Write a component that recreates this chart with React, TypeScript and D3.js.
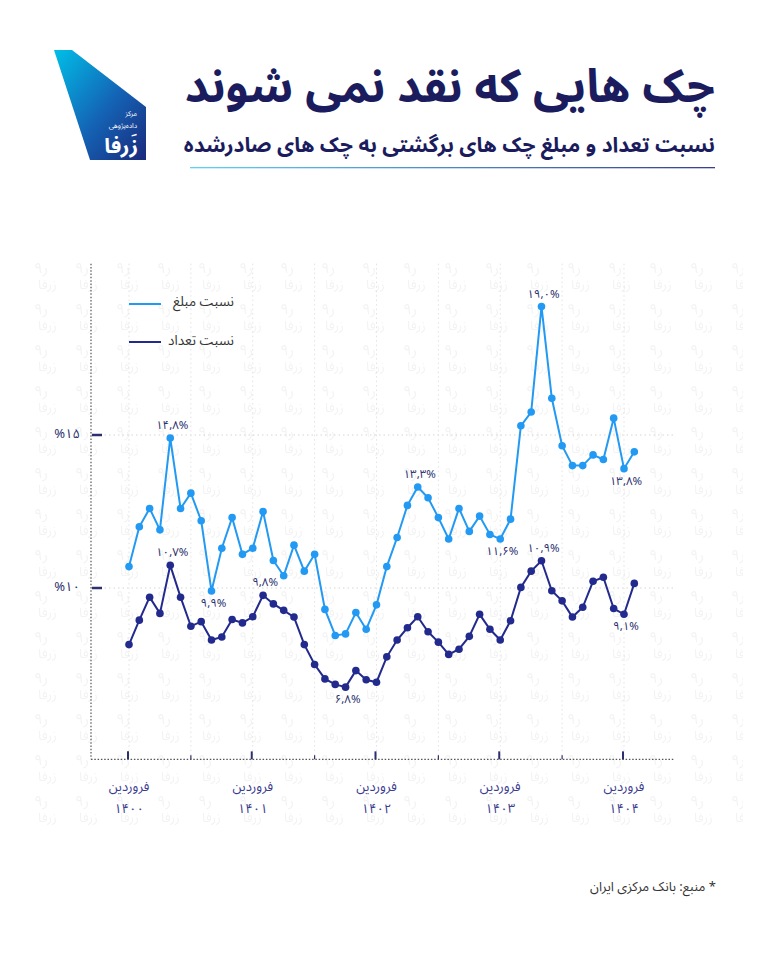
import React from "react";
import * as d3 from "d3";

// ---- data ----
const amountRatio = [10.7, 12.0, 12.6, 11.9, 14.9, 12.6, 13.1, 12.2, 9.9, 11.3, 12.3, 11.1, 11.3, 12.5, 10.9, 10.4, 11.4, 10.55, 11.1, 9.3, 8.45, 8.5, 9.2, 8.65, 9.45, 10.7, 11.65, 12.7, 13.3, 12.95, 12.3, 11.6, 12.6, 11.85, 12.35, 11.75, 11.6, 12.25, 15.3, 15.75, 19.2, 16.2, 14.65, 14.0, 14.0, 14.35, 14.2, 15.55, 13.9, 14.45];
const countRatio = [8.15, 8.95, 9.7, 9.17, 10.74, 9.7, 8.75, 8.9, 8.3, 8.4, 8.97, 8.86, 9.06, 9.76, 9.48, 9.27, 9.05, 8.15, 7.5, 7.03, 6.85, 6.76, 7.3, 7.0, 6.92, 7.75, 8.3, 8.7, 9.06, 8.57, 8.23, 7.83, 8.0, 8.42, 9.14, 8.65, 8.3, 8.93, 10.02, 10.55, 10.89, 9.91, 9.58, 9.05, 9.37, 10.22, 10.35, 9.33, 9.14, 10.15];
const yearTickIdx = [0, 12, 24, 36, 48];
const yearLabels = ["۱۴۰۰", "۱۴۰۱", "۱۴۰۲", "۱۴۰۳", "۱۴۰۴"];
const monthLabel = "فروردین";
const minorTickIdx = [6, 18, 30, 42];
const yTicks = [10, 15];
const yTickLabels = ["%۱۰", "%۱۵"];
const amountNotes = [
  { i: 4, text: "۱۴,۸%", above: true },
  { i: 8, text: "۹,۹%", above: false },
  { i: 28, text: "۱۳,۳%", above: true },
  { i: 36, text: "۱۱,۶%", above: false },
  { i: 40, text: "۱۹,۰%", above: true },
  { i: 48, text: "۱۳,۸%", above: false },
];
const countNotes = [
  { i: 4, text: "۱۰,۷%", above: true },
  { i: 13, text: "۹,۸%", above: true },
  { i: 21, text: "۶,۸%", above: false },
  { i: 40, text: "۱۰,۹%", above: true },
  { i: 48, text: "۹,۱%", above: false },
];
const seriesNames = ["نسبت مبلغ", "نسبت تعداد"];
const title = "چک هایی که نقد نمی شوند";
const subtitle = "نسبت تعداد و مبلغ چک های برگشتی به چک های صادرشده";
const source = "منبع: بانک مرکزی ایران *";
const logoLines = ["مرکز", "داده‌پژوهی", "زَرفا"];

const FONT = "'Noto Sans Arabic', 'DejaVu Sans', sans-serif";
const LIGHT = "#2299f3";
const DARK = "#222a8d";
const NAVY = "#1b1c5e";

export default function App() {
  const x = d3.scaleLinear().domain([0, 49]).range([129, 634.3]);
  const y = d3.scaleLinear().domain([10, 15]).range([588, 435]);
  const yTop = y(20.6);
  const yBot = y(4.4);
  const xLeft = 91;
  const xRight = 675;

  const line = d3
    .line<number>()
    .x((_, i) => x(i))
    .y((d) => y(d));

  const renderSeries = (data: number[], color: string) => (
    <g>
      <path d={line(data) || ""} fill="none" stroke={color} strokeWidth={2} />
      {data.map((d, i) => (
        <circle key={i} cx={x(i)} cy={y(d)} r={3.8} fill={color} />
      ))}
    </g>
  );

  const renderNotes = (notes: typeof amountNotes, data: number[]) =>
    notes.map((n, k) => (
      <text
        key={k}
        x={x(n.i) + 2}
        y={y(data[n.i]) + (n.above ? -12 : 13)}
        fontSize={11.5}
        fill="#2b2f6e"
        textAnchor="middle"
        dominantBaseline="middle"
        fontFamily={FONT}
      >
        {n.text}
      </text>
    ));

  return (
    <svg width={768} height={960} style={{ display: "block", position: "absolute", left: 0, top: 0 }} fontFamily={FONT}>
      <defs>
        <linearGradient id="logoGrad" x1="0" y1="0" x2="1" y2="1">
          <stop offset="0%" stopColor="#00bfe8" />
          <stop offset="55%" stopColor="#1463b5" />
          <stop offset="100%" stopColor="#1a2a7c" />
        </linearGradient>
        <linearGradient id="ruleGrad" x1="0" y1="0" x2="1" y2="0">
          <stop offset="0%" stopColor="#5fd3f5" />
          <stop offset="100%" stopColor="#3a3f8f" />
        </linearGradient>
        <pattern id="wm" width={41} height={41} patternUnits="userSpaceOnUse" x={30} y={255}>
          <text x={4} y={18} fontSize={15} fill="#f3f3f3" fontFamily={FONT}>ر۹</text>
          <text x={8} y={34} fontSize={13} fill="#f3f3f3" fontFamily={FONT}>زرفا</text>
        </pattern>
      </defs>
      <rect x={0} y={0} width={768} height={960} fill="#ffffff" />
      <rect x={28} y={255} width={715} height={570} fill="url(#wm)" />

      {/* logo */}
      <polygon points="54,50 72,50 146,107 146,160 90,160" fill="url(#logoGrad)" />
      <text x={137} y={116} fontSize={7} fill="#fff" textAnchor="end">{logoLines[0]}</text>
      <text x={137} y={128} fontSize={7} fill="#fff" textAnchor="end">{logoLines[1]}</text>
      <text x={138} y={153} fontSize={21} fontWeight="bold" fill="#fff" textAnchor="end">{logoLines[2]}</text>

      {/* title */}
      <text x={715} y={102} fontSize={46} fontWeight="bold" fill={NAVY} textAnchor="end">{title}</text>
      <text x={715} y={152} fontSize={21} fontWeight="bold" fill={NAVY} textAnchor="end">{subtitle}</text>
      <rect x={190} y={167} width={525} height={1.3} fill="url(#ruleGrad)" />

      {/* grid */}
      {yTicks.map((t) => (
        <line key={t} x1={xLeft} x2={xRight} y1={y(t)} y2={y(t)} stroke="#d5d5d5" strokeWidth={1} strokeDasharray="1.5,3" />
      ))}
      {d3.range(0, 49, 6).map((i) => (
        <line key={i} x1={x(i)} x2={x(i)} y1={yTop} y2={yBot} stroke="#e2e2e2" strokeWidth={1} strokeDasharray="1.5,3" />
      ))}

      {/* axes */}
      <line x1={xLeft} x2={xLeft} y1={yTop} y2={yBot} stroke="#555" strokeWidth={1.2} strokeDasharray="1.5,1.8" />
      <line x1={xLeft} x2={xRight} y1={yBot} y2={yBot} stroke="#555" strokeWidth={1.2} strokeDasharray="1.5,1.8" />
      {yTicks.map((t, k) => (
        <g key={t}>
          <line x1={92} x2={102} y1={y(t)} y2={y(t)} stroke="#2b2f6e" strokeWidth={2.5} />
          <text x={80} y={y(t)} fontSize={13} fill="#2b2f6e" textAnchor="end" dominantBaseline="middle">{yTickLabels[k]}</text>
        </g>
      ))}
      {yearTickIdx.map((i, k) => (
        <g key={i}>
          <line x1={x(i) - 1} x2={x(i) - 1} y1={yBot - 8} y2={yBot} stroke="#2b2f6e" strokeWidth={2} />
          <text x={x(i)} y={788} fontSize={13} fill="#3b3b8f" textAnchor="middle" dominantBaseline="middle">{monthLabel}</text>
          <text x={x(i)} y={810} fontSize={13} fill="#3b3b8f" textAnchor="middle" dominantBaseline="middle">{yearLabels[k]}</text>
        </g>
      ))}
      {minorTickIdx.map((i) => (
        <line key={i} x1={x(i)} x2={x(i)} y1={yBot - 4} y2={yBot} stroke="#2b2f6e" strokeWidth={1.2} />
      ))}

      {/* legend */}
      <line x1={129} x2={161} y1={304} y2={304} stroke={LIGHT} strokeWidth={2} />
      <text x={234} y={302} fontSize={13.5} fill="#333" textAnchor="end" dominantBaseline="middle">{seriesNames[0]}</text>
      <line x1={129} x2={161} y1={342} y2={342} stroke={DARK} strokeWidth={2} />
      <text x={234} y={341} fontSize={13.5} fill="#333" textAnchor="end" dominantBaseline="middle">{seriesNames[1]}</text>

      {renderSeries(amountRatio, LIGHT)}
      {renderSeries(countRatio, DARK)}
      {renderNotes(amountNotes, amountRatio)}
      {renderNotes(countNotes, countRatio)}

      {/* source */}
      <text x={716} y={888} fontSize={13} fill="#333" textAnchor="end" dominantBaseline="middle">{source}</text>
    </svg>
  );
}
